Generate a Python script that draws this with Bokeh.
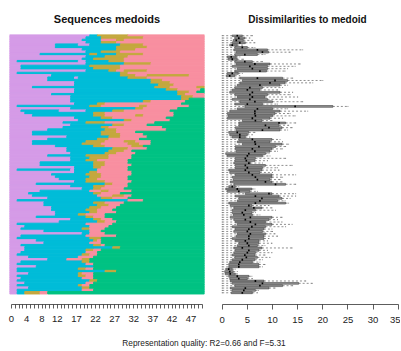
from bokeh.plotting import figure
from bokeh.layouts import row, column
from bokeh.models import Range1d, FixedTicker, ColumnDataSource, Label
from bokeh.embed import file_html
from bokeh.resources import INLINE

# ---------------- data ----------------
STATE_COLORS = {"P": "#D59BE7", "C": "#00BCD8", "O": "#C4A83E", "K": "#F88FA0", "G": "#00C283"}
SEQ_LEN = 51
TIME_LABELS = [0, 4, 8, 12, 17, 22, 27, 32, 37, 42, 47]

# each sequence: state letter + time position where that spell ends (top row first)
SEQUENCES = [
    "P21 C23 O31 K51", "P20 C24 O35 K51", "P19 C24 K28 O30 K51", "P20 C24 O28 K51",
    "P12 C18 P21 C29 O35 K51", "P12 C28 O36 K51", "P19 C28 O33 K51", "P20 C24 O29 K51",
    "P8 C21 O23 C28 O35 K51", "P20 C25 O31 K51", "P19 C22 O30 K51", "P2 C18 P20 C26 O30 K51",
    "P20 C30 O37 K51", "P3 C21 O29 K51", "P3 C22 O29 K51", "P20 C26 O28 K30 O36 K51",
    "P2 C29 O31 K51", "P11 C29 O33 K36 O47 K51", "P10 C17 P18 C31 O36 K51", "P10 C37 O40 K51",
    "P17 C37 O42 K51", "P17 C39 O43 K51", "P6 C38 O42 K49 O51", "P17 C41 O44 K50 G51",
    "P17 C44 O47 K49 G51", "P11 C44 O46 K51", "P16 C45 O48 K51", "P16 C45 O47 G51",
    "P16 C35 O37 K46 G51", "P17 C23 O25 K45 G51", "P2 C21 O24 K34 O36 K47 G51", "P16 C33 O35 K44 G51",
    "P3 C13 P20 C27 O30 K42 G51", "P4 C22 O25 K43 G51", "P6 C22 O25 K33 O35 K43 G51", "P17 C24 O27 K41 G51",
    "P18 C30 O32 K42 G51", "P14 C20 O25 K38 G51", "P16 C27 O30 K36 G51", "P14 C24 O26 K40 G51",
    "P10 C25 O28 K41 G51", "P6 C24 O28 K33 G51", "P6 C24 O29 K35 G51", "P15 C26 O29 K36 G51",
    "P10 C23 O26 K34 G51", "P6 C20 O25 K30 O33 K37 G51", "P6 C19 O24 K31 O34 K37 G51", "P12 C22 O25 K32 O35 G51",
    "P15 C27 O31 K36 G51", "P15 C26 O30 K32 G51", "P16 C25 O28 K33 G51", "P10 C20 O26 K32 G51",
    "P16 C21 O26 K32 G51", "P16 C20 O23 K31 G51", "P8 C22 O25 K31 G51", "P8 C22 O25 K32 G51",
    "P17 C22 O24 K31 G51", "P2 C16 P17 C23 K31 G51", "P17 C21 O23 K32 G51", "P11 C20 O24 K32 G51",
    "P12 C21 O24 K31 G51", "P13 C20 O23 K31 G51", "P17 C20 O25 K32 G51", "P7 C25 O27 K31 G51",
    "P16 C22 O25 K31 G51", "P19 C22 O24 K30 G51", "P8 C21 K24 O26 K32 G51", "P5 C22 O24 K29 G51",
    "P6 C23 K27 O30 K32 G51", "P10 C24 O27 K31 G51", "P2 C31 K35 G51", "P9 C22 O25 K30 G51",
    "P9 C23 O26 K29 G51", "P11 C21 O24 K28 G51", "P11 C20 O23 K27 G51", "P12 C21 O23 K28 G51",
    "P12 C18 O20 K25 G51", "P7 C20 O22 K25 G51", "P16 C22 O24 K27 G51", "P13 C23 O25 K28 G51",
    "P2 C20 K27 G51", "P4 C21 K26 G51", "P3 C19 O21 K25 G51", "P9 C21 K24 G51",
    "P19 C21 K25 G51", "P3 C20 K28 G51", "P2 C21 O24 G51", "P7 C22 O23 K24 G51",
    "P9 C21 K24 G51", "P3 C22 O24 K25 G51", "P4 C27 O29 G51", "P4 C20 O22 K24 G51",
    "P3 C20 K23 G51", "P2 C19 O21 K23 G51", "P5 C18 K22 G51", "P10 C15 K19 O21 G51",
    "P3 C19 O21 G51", "P2 C20 K22 G51", "P7 C22 G51", "P2 C18 O20 K22 G51",
    "P2 C25 O28 G51", "P5 C18 O19 K22 G51", "P2 C18 O20 K22 G51", "P3 C19 K22 G51",
    "P2 C21 O23 G51", "P4 C20 K22 G51", "P2 C18 O19 K21 G51", "P5 C19 O21 G51",
    "P2 C19 K22 G51", "P2 C4 O8 K10 G51",
]

# dissimilarities to medoid (min is 0): first quartile, median, third quartile, upper whisker
Q1 = [2.0, 2.5, 2.2, 2.0, 1.5, 2.5, 2.3, 2.8, 2.5, 1.0, 1.2, 2.5, 2.8, 2.0, 3.0, 2.5, 1.0, 0.8, 3.5, 4.0,
      3.5, 3.0, 2.5, 2.0, 1.5, 2.5, 3.0, 2.0, 3.5, 2.5, 4.5, 3.0, 1.5, 1.0, 1.2, 1.0, 4.0, 3.3, 3.3, 2.6,
      2.8, 1.3, 1.5, 2.0, 3.3, 3.0, 4.0, 2.6, 2.6, 2.8, 0.7, 1.0, 2.6, 2.5, 2.3, 2.6, 2.6, 1.3, 1.5, 2.6,
      2.0, 2.2, 1.6, 2.3, 1.3, 0.7, 1.0, 4.6, 2.6, 3.3, 3.0, 1.3, 1.6, 2.3, 2.0, 2.0, 2.2, 1.6, 2.3, 2.6,
      3.0, 2.0, 2.6, 2.3, 3.0, 2.8, 2.0, 2.6, 3.3, 3.0, 2.3, 2.6, 2.3, 2.0, 2.5, 2.0, 1.5, 1.3, 1.3, 0.7,
      0.5, 0.6, 1.3, 1.5, 1.6, 2.0, 2.5, 1.6, 2.0, 1.8]
MED = [3.0, 3.3, 2.8, 3.5, 2.0, 4.0, 7.0, 8.0, 4.5, 1.8, 2.0, 4.5, 6.5, 5.5, 6.0, 7.5, 2.0, 1.5, 7.0, 10.5,
       9.5, 7.5, 5.5, 5.0, 6.0, 5.5, 6.0, 5.5, 6.5, 5.0, 14.5, 7.0, 6.5, 6.5, 6.6, 6.0, 6.6, 11.3, 8.6, 9.3,
       8.0, 3.0, 3.5, 3.5, 6.0, 6.5, 6.6, 7.3, 6.0, 6.5, 5.3, 5.0, 4.6, 4.8, 5.3, 4.6, 5.0, 4.6, 5.3, 6.0,
       6.6, 7.0, 8.6, 10.6, 2.0, 3.0, 3.3, 9.3, 6.6, 7.9, 7.5, 6.6, 5.3, 6.3, 4.6, 4.0, 4.3, 5.6, 4.6, 5.6,
       6.6, 5.9, 5.3, 5.0, 5.6, 5.3, 5.3, 4.6, 5.0, 5.3, 4.0, 5.3, 5.0, 4.5, 4.8, 4.0, 3.5, 3.3, 3.3, 1.3,
       1.5, 1.6, 3.0, 3.3, 6.6, 8.0, 7.5, 4.6, 4.3, 4.0]
Q3 = [4.0, 4.5, 4.2, 4.6, 3.0, 5.0, 9.0, 9.2, 7.0, 2.8, 3.0, 6.0, 9.5, 9.0, 9.0, 8.8, 3.2, 2.5, 12.0, 13.0,
      12.5, 11.5, 8.0, 7.5, 11.5, 9.0, 8.5, 9.0, 10.0, 8.0, 22.0, 10.0, 11.5, 10.5, 10.0, 9.5, 7.9, 12.6, 11.3, 11.9,
      11.5, 5.3, 5.0, 4.6, 9.9, 9.5, 11.9, 10.6, 9.9, 9.5, 8.6, 8.0, 6.6, 6.5, 5.6, 8.6, 8.0, 7.9, 7.5, 9.9,
      9.9, 9.5, 9.9, 12.6, 2.6, 5.9, 5.5, 9.9, 11.3, 11.9, 11.0, 12.6, 5.9, 7.9, 6.6, 5.9, 6.0, 9.9, 9.3, 8.6,
      9.9, 8.6, 8.3, 8.0, 8.6, 8.3, 8.3, 7.3, 7.3, 7.0, 7.9, 7.3, 6.6, 6.5, 7.0, 6.5, 6.0, 7.3, 7.3, 2.0,
      2.2, 2.6, 5.3, 5.0, 8.3, 15.2, 12.0, 9.3, 6.6, 6.0]
WMAX = [6.0, 5.5, 6.0, 6.5, 4.0, 6.5, 16.0, 13.5, 8.5, 3.5, 4.2, 8.0, 15.5, 14.5, 13.0, 12.5, 4.0, 3.5, 14.0, 20.0,
        18.0, 13.0, 12.0, 11.0, 14.0, 13.5, 15.0, 12.0, 16.0, 11.0, 25.0, 13.0, 17.0, 13.5, 14.5, 12.0, 9.9, 14.6, 13.2, 13.9,
        13.0, 6.5, 6.0, 5.5, 11.5, 12.0, 13.2, 12.6, 12.0, 11.0, 9.3, 9.5, 12.6, 9.0, 8.0, 13.9, 11.0, 11.3, 10.0, 14.6,
        12.0, 11.5, 11.9, 14.6, 3.3, 6.5, 7.0, 14.6, 14.6, 13.5, 12.5, 13.2, 9.3, 9.9, 10.6, 6.6, 7.5, 11.9, 11.0, 11.9,
        13.9, 12.6, 9.9, 10.0, 10.5, 11.0, 9.3, 9.0, 9.9, 8.5, 13.9, 9.0, 9.9, 8.5, 9.5, 8.0, 7.5, 8.5, 8.0, 2.6,
        3.0, 3.0, 5.9, 6.0, 16.6, 17.9, 14.0, 10.5, 7.2, 7.0]
DISS_TICKS = [0, 5, 10, 15, 20, 25, 30, 35]

TITLE_LEFT = "Sequences medoids"
TITLE_RIGHT = "Dissimilarities to medoid"
CAPTION = "Representation quality: R2=0.66 and F=5.31"

FONT = "Liberation Sans"
N = len(SEQUENCES)

# ---------------- left panel: sequence index plot ----------------
seg = dict(left=[], right=[], top=[], bottom=[], color=[])
for i, s in enumerate(SEQUENCES):
    prev = 0
    for tok in s.split():
        st, end = tok[0], int(tok[1:])
        seg["left"].append(prev - 0.5)
        seg["right"].append(end - 0.5)
        seg["top"].append(N - i)
        seg["bottom"].append(N - i - 1)
        seg["color"].append(STATE_COLORS[st])
        prev = end

y_bottom = -4.47
pl = figure(width=214, height=330, x_range=Range1d(-0.5, SEQ_LEN - 0.5), y_range=Range1d(y_bottom, N),
            output_backend="svg", toolbar_location=None, title=TITLE_LEFT,
            min_border_left=9, min_border_right=10, min_border_top=34, min_border_bottom=26)
pl.quad(left="left", right="right", top="top", bottom="bottom", fill_color="color",
        line_color="color", line_width=1.0, source=ColumnDataSource(seg))

ax = pl.xaxis[0]
ax.ticker = FixedTicker(ticks=list(range(SEQ_LEN)))
ax.major_label_overrides = {k: (str(k) if k in TIME_LABELS else "") for k in range(SEQ_LEN)}
ax.bounds = (0, SEQ_LEN - 1)

# ---------------- right panel: boxplots ----------------
yc = [N - i - 0.5 for i in range(N)]
zeros = [0] * N
bw = 0.38
pr = figure(width=186, height=330, x_range=Range1d(-1.53, 35.45), y_range=Range1d(y_bottom, N),
            output_backend="svg", toolbar_location=None, title=TITLE_RIGHT,
            min_border_left=0, min_border_right=0, min_border_top=34, min_border_bottom=26)
pr.segment(x0=zeros, x1=Q1, y0=yc, y1=yc, line_color="#444444", line_width=0.6, line_dash="2 2")
pr.segment(x0=Q3, x1=WMAX, y0=yc, y1=yc, line_color="#444444", line_width=0.6, line_dash="2 2")
pr.segment(x0=zeros, x1=zeros, y0=[v - 0.2 for v in yc], y1=[v + 0.2 for v in yc], line_color="#444444", line_width=0.6)
pr.segment(x0=WMAX, x1=WMAX, y0=[v - 0.2 for v in yc], y1=[v + 0.2 for v in yc], line_color="#444444", line_width=0.6)
pr.quad(left=Q1, right=Q3, bottom=[v - bw for v in yc], top=[v + bw for v in yc],
        fill_color="#929292", line_color="#2a2a2a", line_width=0.5)
pr.segment(x0=MED, x1=MED, y0=[v - bw for v in yc], y1=[v + bw for v in yc], line_color="black", line_width=1.6)

axr = pr.xaxis[0]
axr.ticker = FixedTicker(ticks=DISS_TICKS)
axr.bounds = (0, 35)

for p, tick_out in ((pl, 4), (pr, 5)):
    p.yaxis.visible = False
    p.xgrid.visible = False
    p.ygrid.visible = False
    p.outline_line_color = None
    p.background_fill_color = "white"
    p.border_fill_color = "white"
    a = p.xaxis[0]
    a.major_tick_out = tick_out
    a.major_tick_in = 0
    a.minor_tick_out = 0
    a.minor_tick_in = 0
    a.axis_line_color = "#333333"
    a.major_tick_line_color = "#333333"
    a.axis_line_width = 0.8
    a.major_tick_line_width = 0.8
    a.major_label_text_font = FONT
    a.major_label_text_font_size = "9.5px"
    a.major_label_text_color = "#222222"
    a.major_label_standoff = 7
    p.title.align = "center"
    p.title.text_font = FONT
    p.title.text_font_style = "bold"
    p.title.text_color = "#111111"
    p.title.standoff = 20

pl.title.text_font_size = "11px"
pr.title.text_font_size = "10px"
pr.title.offset = -7

# ---------------- caption ----------------
cap = figure(width=400, height=20, x_range=Range1d(0, 400), y_range=Range1d(0, 20),
             output_backend="svg", toolbar_location=None, min_border=0)
cap.axis.visible = False
cap.grid.visible = False
cap.outline_line_color = None
cap.add_layout(Label(x=203.5, y=8, text=CAPTION, text_align="center", text_baseline="middle",
                     text_font=FONT, text_font_size="8.3px", text_color="#222222"))

layout = column(row(pl, pr), cap)
open("out.html", "w").write(file_html(layout, INLINE))
